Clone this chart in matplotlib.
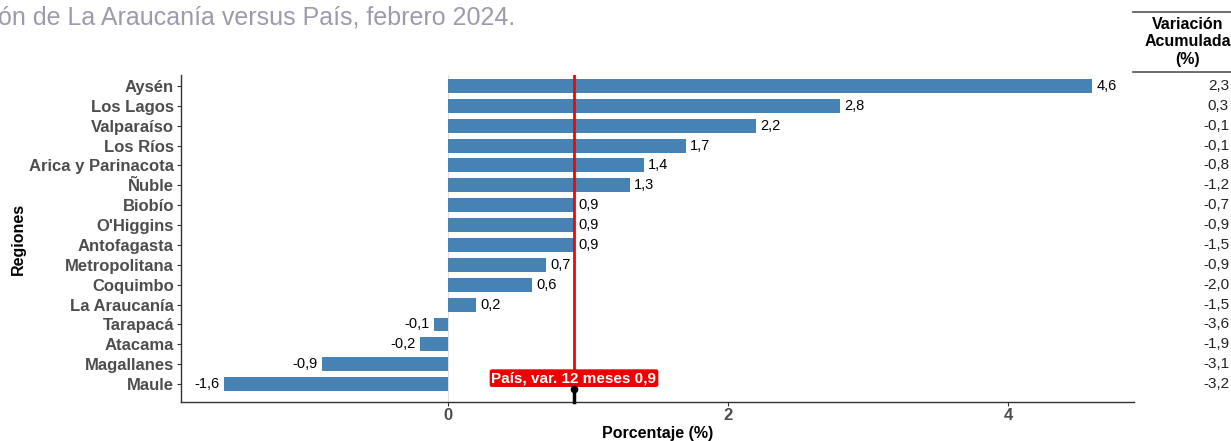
import matplotlib
matplotlib.use("Agg")
import matplotlib.pyplot as plt
from matplotlib.transforms import blended_transform_factory

plt.rcParams['font.family'] = ['Liberation Sans', 'DejaVu Sans']

regiones = ["Aysén", "Los Lagos", "Valparaíso", "Los Ríos", "Arica y Parinacota", "Ñuble",
            "Biobío", "O'Higgins", "Antofagasta", "Metropolitana", "Coquimbo", "La Araucanía",
            "Tarapacá", "Atacama", "Magallanes", "Maule"]
var_12m = [4.6, 2.8, 2.2, 1.7, 1.4, 1.3, 0.9, 0.9, 0.9, 0.7, 0.6, 0.2, -0.1, -0.2, -0.9, -1.6]
var_acum = [2.3, 0.3, -0.1, -0.1, -0.8, -1.2, -0.7, -0.9, -1.5, -0.9, -2.0, -1.5, -3.6, -1.9, -3.1, -3.2]
pais = 0.9
titulo = "ón de La Araucanía versus País, febrero 2024."
x_ticks = [0, 2, 4]

def fmt(v):
    return f"{v:.1f}".replace(".", ",")

fig = plt.figure(figsize=(12.31, 4.41), dpi=100)
ax = fig.add_axes([181/1231, 1-402/441, (1134-181)/1231, (402-75)/441])

n = len(regiones)
ypos = [n - 1 - i for i in range(n)]

ax.axvline(0, color='#e0e0e0', lw=0.8, zorder=0)
ax.barh(ypos, var_12m, height=0.7, color='#4682B4', zorder=2)
for y, v in zip(ypos, var_12m):
    if v >= 0:
        ax.text(v + 0.03, y, fmt(v), ha='left', va='center', fontsize=10.5, color='black', zorder=4)
    else:
        ax.text(v - 0.03, y, fmt(v), ha='right', va='center', fontsize=10.5, color='black', zorder=4)

ax.set_xlim(-1.907, 4.9)
ax.set_ylim(-0.9, n - 1 + 0.55)

# country line and label
ax.plot([pais, pais], [0.3, n - 1 + 0.55], color='red', lw=2, zorder=3)
ax.text(pais, 0.3, f"País, var. 12 meses {fmt(pais)}", ha='center', va='center', fontsize=11,
        fontweight='bold', color='white', zorder=5,
        bbox=dict(boxstyle='round,pad=0.12,rounding_size=0.15', fc='#ee0000', ec='none'))
ax.plot([pais, pais], [-0.9, -0.25], color='black', lw=2.5, zorder=5, clip_on=False)
ax.plot([pais], [-0.25], marker='o', color='black', markersize=4.5, zorder=5)

ax.set_yticks(ypos)
ax.set_yticklabels(regiones, fontsize=12, fontweight='bold', color='#4d4d4d')
ax.set_xticks(x_ticks)
ax.set_xticklabels([str(t) for t in x_ticks], fontsize=12, fontweight='bold', color='#4d4d4d')
ax.tick_params(axis='both', length=3, color='#333333', width=0.8)
ax.tick_params(axis='y', pad=2)
ax.tick_params(axis='x', pad=1.5)
for s in ['top', 'right']:
    ax.spines[s].set_visible(False)
for s in ['left', 'bottom']:
    ax.spines[s].set_color('#333333')
    ax.spines[s].set_linewidth(1.0)
ax.set_xlabel("Porcentaje (%)", fontsize=11.5, fontweight='bold', labelpad=2)
ax.set_ylabel("Regiones", fontsize=11.5, fontweight='bold', labelpad=2)

# title (clipped at left)
fig.text(-0.002, 1 - 17/441, titulo, ha='left', va='center', fontsize=18, color='#9e9aae')

# right table
tx_right = 1229 / 1231
fig.text(1188/1231, 1 - 42/441, "Variación\nAcumulada\n(%)", ha='center', va='center',
         fontsize=11.5, fontweight='bold', linespacing=1.2)
fig.add_artist(plt.Line2D([1133/1231, 1.0], [1 - 12/441, 1 - 12/441], color='#555555', lw=1.2))
fig.add_artist(plt.Line2D([1133/1231, 1.0], [1 - 72/441, 1 - 72/441], color='#555555', lw=1.2))
trans = blended_transform_factory(fig.transFigure, ax.transData)
for y, v in zip(ypos, var_acum):
    ax.text(tx_right, y, fmt(v), transform=trans,
            ha='right', va='center', fontsize=11, color='#222222', clip_on=False)

fig.savefig("out.png", dpi=100)
